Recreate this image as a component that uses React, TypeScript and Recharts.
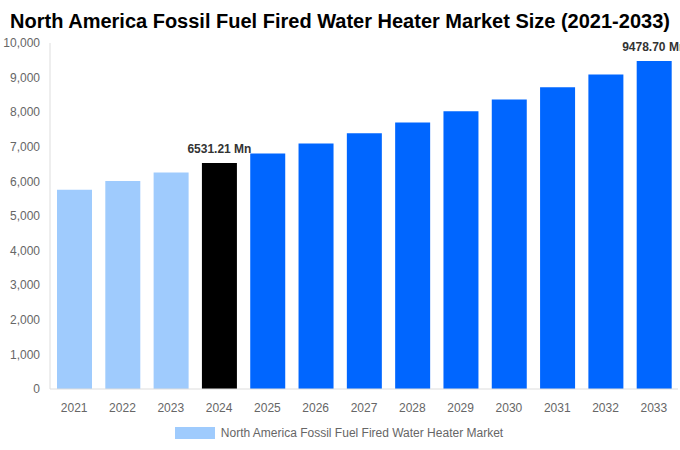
import { BarChart, Bar, XAxis, YAxis, Cell, LabelList, Legend } from "recharts";

const YEARS = ["2021", "2022", "2023", "2024", "2025", "2026", "2027", "2028", "2029", "2030", "2031", "2032", "2033"];
const MARKET_SIZE = [5760, 6010, 6260, 6531.21, 6807, 7094, 7393, 7705, 8030, 8369, 8722, 9090, 9478.7];
const Y_TICKS = [0, 1000, 2000, 3000, 4000, 5000, 6000, 7000, 8000, 9000, 10000];
const LABELED_YEARS = ["2024", "2033"];
const SERIES_NAME = "North America Fossil Fuel Fired Water Heater Market";

const HISTORIC = "#9fcbfd";
const BASE = "#000000";
const FORECAST = "#0066ff";
const FONT = "'Liberation Sans', Arial, sans-serif";

const data = YEARS.map((year, i) => ({ year, value: MARKET_SIZE[i] }));

function barColor(year: string) {
  const y = Number(year);
  if (y < 2024) return HISTORIC;
  if (y === 2024) return BASE;
  return FORECAST;
}

function ValueLabel(props: any) {
  const { x, y, width, value, index } = props;
  if (!LABELED_YEARS.includes(YEARS[index])) return null;
  return (
    <text
      x={x + width / 2}
      y={y - 10}
      textAnchor="middle"
      fill="#333"
      style={{ fontFamily: FONT, fontSize: 12, fontWeight: 700 }}
    >
      {Number(value).toFixed(2)} Mn
    </text>
  );
}

function LegendContent() {
  return (
    <div style={{ display: "flex", justifyContent: "center", alignItems: "center", fontFamily: FONT, fontSize: 12, color: "#666" }}>
      <span style={{ width: 40, height: 12, background: HISTORIC, display: "inline-block", marginRight: 6 }} />
      <span>{SERIES_NAME}</span>
    </div>
  );
}

export default function App() {
  return (
    <div style={{ position: "absolute", left: 0, top: 0, width: 680, height: 450, background: "#fff" }}>
      <div
        style={{
          position: "absolute",
          top: 9,
          left: 0,
          width: 680,
          textAlign: "center",
          fontFamily: FONT,
          fontSize: 20,
          fontWeight: 700,
          color: "#000",
          lineHeight: "24px",
          zIndex: 1,
        }}
      >
        North America Fossil Fuel Fired Water Heater Market Size (2021-2033)
      </div>
      <BarChart width={680} height={450} data={data} margin={{ top: 43, right: 2, left: 0, bottom: 2 }}>
        <XAxis
          dataKey="year"
          tickLine={false}
          tickMargin={8}
          height={37}
          stroke="#ddd"
          tick={{ fill: "#666", fontSize: 12, fontFamily: FONT }}
        />
        <YAxis
          width={50}
          domain={[0, 10000]}
          ticks={Y_TICKS}
          tickLine={false}
          tickMargin={4}
          stroke="#ddd"
          tickFormatter={(v: number) => v.toLocaleString("en-US")}
          tick={{ fill: "#666", fontSize: 12, fontFamily: FONT }}
        />
        <Legend verticalAlign="bottom" height={22} content={<LegendContent />} />
        <Bar dataKey="value" name={SERIES_NAME} barSize={35} isAnimationActive={false}>
          {data.map((d) => (
            <Cell key={d.year} fill={barColor(d.year)} />
          ))}
          <LabelList dataKey="value" content={<ValueLabel />} />
        </Bar>
      </BarChart>
    </div>
  );
}
